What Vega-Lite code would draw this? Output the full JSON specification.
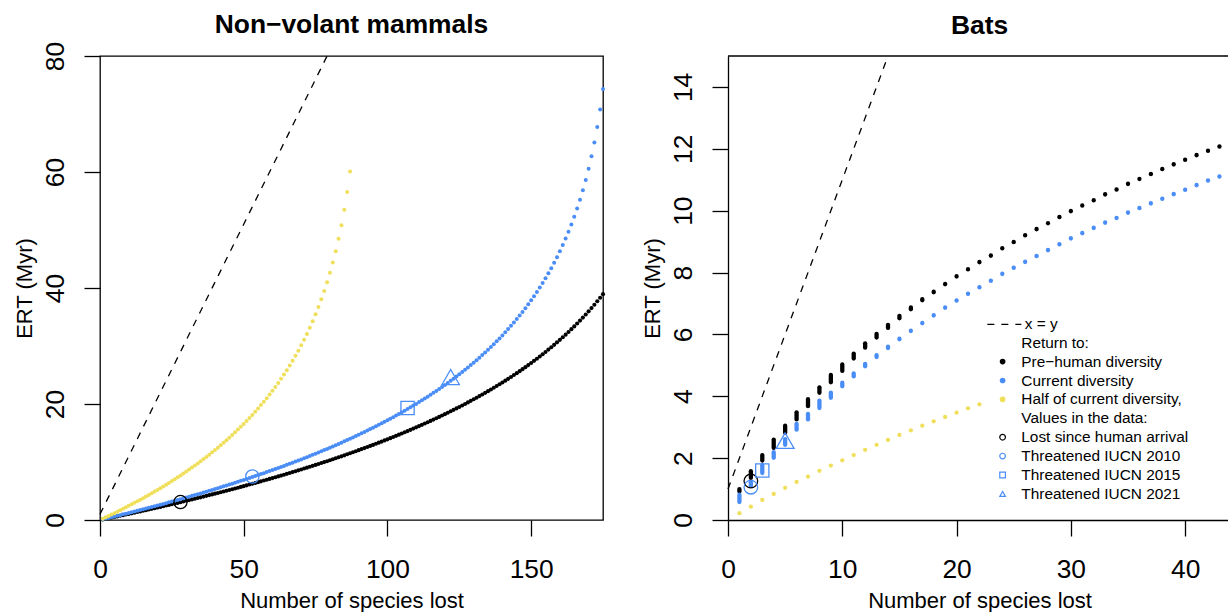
{
"$schema": "https://vega.github.io/schema/vega-lite/v6.json",
"padding": {"left": 12, "top": 11, "right": 0, "bottom": 0},
"autosize": {"type": "pad"},
"spacing": 125,
"bounds": "flush",
"resolve": {"scale": {"fill": "independent", "stroke": "independent", "shape": "independent", "strokeDash": "independent"}},
"config": {
  "font": "Liberation Sans",
  "view": {"stroke": "black", "strokeWidth": 1.3},
  "axis": {"grid": false, "domain": false, "ticks": true, "tickColor": "black", "tickWidth": 1.3, "tickSize": 16, "labelFontSize": 26.4, "labelColor": "black", "labelFont": "Liberation Sans", "titleFontSize": 22, "titleFontWeight": "normal", "titleColor": "black", "titleFont": "Liberation Sans", "labelBaseline": "alphabetic", "titleBaseline": "alphabetic", "domainColor": "black", "domainWidth": 1.3, "labelFlush": false, "labelOverlap": false, "labelBound": false},
  "axisX": {"labelPadding": 41.7, "labelAngle": 0, "labelAlign": "center", "titleY": 87, "titleX": 251.5, "titleAlign": "center"},
  "axisY": {"labelAngle": -90, "labelAlign": "center", "labelPadding": 20.7, "titleX": -69, "titleY": 232, "titleAngle": 270, "titleAlign": "center"},
  "title": {"fontSize": 26.4, "fontWeight": "bold", "color": "black", "font": "Liberation Sans", "frame": "group", "anchor": "middle"},
  "legend": {"labelFontSize": 15.4, "labelColor": "black", "labelFont": "Liberation Sans", "padding": 0, "labelLimit": 400},
  "circle": {"opacity": 1},
  "point": {"opacity": 1}
},
"datasets": {
"mam": [
{"x":1,"pre":0.1,"cur":0.12,"half":0.23},{"x":2,"pre":0.21,"cur":0.24,"half":0.47},{"x":3,"pre":0.31,"cur":0.36,"half":0.7},{"x":4,"pre":0.41,"cur":0.48,"half":0.94},{"x":5,"pre":0.52,"cur":0.6,"half":1.18},{"x":6,"pre":0.62,"cur":0.72,"half":1.43},{"x":7,"pre":0.73,"cur":0.84,"half":1.68},{"x":8,"pre":0.83,"cur":0.97,"half":1.93},{"x":9,"pre":0.94,"cur":1.09,"half":2.18},{"x":10,"pre":1.05,"cur":1.21,"half":2.44},
{"x":11,"pre":1.15,"cur":1.34,"half":2.7},{"x":12,"pre":1.26,"cur":1.47,"half":2.96},{"x":13,"pre":1.37,"cur":1.59,"half":3.23},{"x":14,"pre":1.48,"cur":1.72,"half":3.5},{"x":15,"pre":1.59,"cur":1.85,"half":3.77},{"x":16,"pre":1.7,"cur":1.98,"half":4.05},{"x":17,"pre":1.81,"cur":2.11,"half":4.33},{"x":18,"pre":1.92,"cur":2.24,"half":4.61},{"x":19,"pre":2.04,"cur":2.37,"half":4.9},{"x":20,"pre":2.15,"cur":2.5,"half":5.19},
{"x":21,"pre":2.26,"cur":2.63,"half":5.48},{"x":22,"pre":2.38,"cur":2.77,"half":5.78},{"x":23,"pre":2.49,"cur":2.9,"half":6.09},{"x":24,"pre":2.6,"cur":3.04,"half":6.4},{"x":25,"pre":2.72,"cur":3.18,"half":6.71},{"x":26,"pre":2.84,"cur":3.31,"half":7.03},{"x":27,"pre":2.95,"cur":3.45,"half":7.35},{"x":28,"pre":3.07,"cur":3.59,"half":7.68},{"x":29,"pre":3.19,"cur":3.73,"half":8.01},{"x":30,"pre":3.31,"cur":3.87,"half":8.35},
{"x":31,"pre":3.43,"cur":4.01,"half":8.69},{"x":32,"pre":3.55,"cur":4.16,"half":9.04},{"x":33,"pre":3.67,"cur":4.3,"half":9.4},{"x":34,"pre":3.79,"cur":4.45,"half":9.76},{"x":35,"pre":3.91,"cur":4.59,"half":10.13},{"x":36,"pre":4.04,"cur":4.74,"half":10.5},{"x":37,"pre":4.16,"cur":4.89,"half":10.88},{"x":38,"pre":4.29,"cur":5.04,"half":11.27},{"x":39,"pre":4.41,"cur":5.19,"half":11.66},{"x":40,"pre":4.54,"cur":5.34,"half":12.06},
{"x":41,"pre":4.66,"cur":5.49,"half":12.47},{"x":42,"pre":4.79,"cur":5.64,"half":12.89},{"x":43,"pre":4.92,"cur":5.8,"half":13.32},{"x":44,"pre":5.05,"cur":5.95,"half":13.75},{"x":45,"pre":5.18,"cur":6.11,"half":14.2},{"x":46,"pre":5.31,"cur":6.27,"half":14.65},{"x":47,"pre":5.44,"cur":6.42,"half":15.11},{"x":48,"pre":5.57,"cur":6.58,"half":15.59},{"x":49,"pre":5.71,"cur":6.75,"half":16.07},{"x":50,"pre":5.84,"cur":6.91,"half":16.56},
{"x":51,"pre":5.97,"cur":7.07,"half":17.07},{"x":52,"pre":6.11,"cur":7.24,"half":17.59},{"x":53,"pre":6.25,"cur":7.4,"half":18.12},{"x":54,"pre":6.38,"cur":7.57,"half":18.67},{"x":55,"pre":6.52,"cur":7.74,"half":19.23},{"x":56,"pre":6.66,"cur":7.91,"half":19.81},{"x":57,"pre":6.8,"cur":8.08,"half":20.4},{"x":58,"pre":6.94,"cur":8.26,"half":21.01},{"x":59,"pre":7.09,"cur":8.43,"half":21.63},{"x":60,"pre":7.23,"cur":8.61,"half":22.28},
{"x":61,"pre":7.37,"cur":8.78,"half":22.94},{"x":62,"pre":7.52,"cur":8.96,"half":23.63},{"x":63,"pre":7.66,"cur":9.14,"half":24.34},{"x":64,"pre":7.81,"cur":9.33,"half":25.08},{"x":65,"pre":7.96,"cur":9.51,"half":25.84},{"x":66,"pre":8.11,"cur":9.69,"half":26.63},{"x":67,"pre":8.26,"cur":9.88,"half":27.44},{"x":68,"pre":8.41,"cur":10.07,"half":28.3},{"x":69,"pre":8.56,"cur":10.26,"half":29.18},{"x":70,"pre":8.71,"cur":10.45,"half":30.11},
{"x":71,"pre":8.87,"cur":10.65,"half":31.08},{"x":72,"pre":9.02,"cur":10.84,"half":32.09},{"x":73,"pre":9.18,"cur":11.04,"half":33.16},{"x":74,"pre":9.34,"cur":11.24,"half":34.28},{"x":75,"pre":9.5,"cur":11.44,"half":35.46},{"x":76,"pre":9.66,"cur":11.64,"half":36.71},{"x":77,"pre":9.82,"cur":11.85,"half":38.05},{"x":78,"pre":9.98,"cur":12.05,"half":39.47},{"x":79,"pre":10.14,"cur":12.26,"half":40.99},{"x":80,"pre":10.31,"cur":12.47,"half":42.63},
{"x":81,"pre":10.48,"cur":12.69,"half":44.4},{"x":82,"pre":10.64,"cur":12.9,"half":46.34},{"x":83,"pre":10.81,"cur":13.12,"half":48.47},{"x":84,"pre":10.98,"cur":13.34,"half":50.83},{"x":85,"pre":11.15,"cur":13.56,"half":53.5},{"x":86,"pre":11.33,"cur":13.78,"half":56.54},{"x":87,"pre":11.5,"cur":14.01,"half":60.09},{"x":88,"pre":11.68,"cur":14.24},{"x":89,"pre":11.86,"cur":14.47},{"x":90,"pre":12.04,"cur":14.71},
{"x":91,"pre":12.22,"cur":14.94},{"x":92,"pre":12.4,"cur":15.18},{"x":93,"pre":12.58,"cur":15.42},{"x":94,"pre":12.77,"cur":15.67},{"x":95,"pre":12.95,"cur":15.92},{"x":96,"pre":13.14,"cur":16.17},{"x":97,"pre":13.33,"cur":16.42},{"x":98,"pre":13.52,"cur":16.68},{"x":99,"pre":13.72,"cur":16.94},{"x":100,"pre":13.91,"cur":17.2},
{"x":101,"pre":14.11,"cur":17.47},{"x":102,"pre":14.31,"cur":17.73},{"x":103,"pre":14.51,"cur":18.01},{"x":104,"pre":14.71,"cur":18.28},{"x":105,"pre":14.92,"cur":18.56},{"x":106,"pre":15.12,"cur":18.85},{"x":107,"pre":15.33,"cur":19.14},{"x":108,"pre":15.54,"cur":19.43},{"x":109,"pre":15.76,"cur":19.72},{"x":110,"pre":15.97,"cur":20.02},
{"x":111,"pre":16.19,"cur":20.33},{"x":112,"pre":16.41,"cur":20.64},{"x":113,"pre":16.63,"cur":20.95},{"x":114,"pre":16.86,"cur":21.27},{"x":115,"pre":17.08,"cur":21.59},{"x":116,"pre":17.31,"cur":21.92},{"x":117,"pre":17.54,"cur":22.25},{"x":118,"pre":17.78,"cur":22.59},{"x":119,"pre":18.01,"cur":22.93},{"x":120,"pre":18.25,"cur":23.28},
{"x":121,"pre":18.49,"cur":23.64},{"x":122,"pre":18.74,"cur":24.0},{"x":123,"pre":18.99,"cur":24.37},{"x":124,"pre":19.24,"cur":24.74},{"x":125,"pre":19.49,"cur":25.12},{"x":126,"pre":19.75,"cur":25.51},{"x":127,"pre":20.01,"cur":25.9},{"x":128,"pre":20.27,"cur":26.3},{"x":129,"pre":20.54,"cur":26.71},{"x":130,"pre":20.81,"cur":27.13},
{"x":131,"pre":21.08,"cur":27.56},{"x":132,"pre":21.36,"cur":27.99},{"x":133,"pre":21.64,"cur":28.44},{"x":134,"pre":21.92,"cur":28.89},{"x":135,"pre":22.21,"cur":29.35},{"x":136,"pre":22.5,"cur":29.82},{"x":137,"pre":22.8,"cur":30.31},{"x":138,"pre":23.1,"cur":30.8},{"x":139,"pre":23.4,"cur":31.31},{"x":140,"pre":23.71,"cur":31.83},
{"x":141,"pre":24.02,"cur":32.36},{"x":142,"pre":24.34,"cur":32.91},{"x":143,"pre":24.66,"cur":33.47},{"x":144,"pre":24.99,"cur":34.05},{"x":145,"pre":25.32,"cur":34.64},{"x":146,"pre":25.66,"cur":35.25},{"x":147,"pre":26.01,"cur":35.87},{"x":148,"pre":26.35,"cur":36.52},{"x":149,"pre":26.71,"cur":37.18},{"x":150,"pre":27.07,"cur":37.87},
{"x":151,"pre":27.44,"cur":38.58},{"x":152,"pre":27.81,"cur":39.32},{"x":153,"pre":28.19,"cur":40.08},{"x":154,"pre":28.58,"cur":40.86},{"x":155,"pre":28.97,"cur":41.68},{"x":156,"pre":29.38,"cur":42.54},{"x":157,"pre":29.78,"cur":43.42},{"x":158,"pre":30.2,"cur":44.35},{"x":159,"pre":30.63,"cur":45.32},{"x":160,"pre":31.06,"cur":46.33},
{"x":161,"pre":31.51,"cur":47.4},{"x":162,"pre":31.96,"cur":48.52},{"x":163,"pre":32.42,"cur":49.7},{"x":164,"pre":32.9,"cur":50.95},{"x":165,"pre":33.38,"cur":52.29},{"x":166,"pre":33.88,"cur":53.71},{"x":167,"pre":34.38,"cur":55.23},{"x":168,"pre":34.9,"cur":56.87},{"x":169,"pre":35.43,"cur":58.64},{"x":170,"pre":35.98,"cur":60.58},
{"x":171,"pre":36.54,"cur":62.71},{"x":172,"pre":37.12,"cur":65.07},{"x":173,"pre":37.71,"cur":67.74},{"x":174,"pre":38.32,"cur":70.78},{"x":175,"pre":38.94,"cur":74.33}
],
"bats": [
{"x":1,"plo":0.92,"phi":1.0,"clo":0.58,"chi":0.82,"h":0.22},{"x":2,"plo":1.36,"phi":1.58,"clo":1.1,"chi":1.22,"h":0.43},{"x":3,"plo":1.92,"phi":2.1,"clo":1.52,"chi":1.77,"h":0.65},{"x":4,"plo":2.33,"phi":2.6,"clo":2.01,"chi":2.19,"h":0.84},{"x":5,"plo":2.82,"phi":3.05,"clo":2.43,"chi":2.61,"h":1.04},
{"x":6,"plo":3.25,"phi":3.48,"clo":2.92,"chi":3.11,"h":1.23},{"x":7,"plo":3.68,"phi":3.91,"clo":3.25,"chi":3.43,"h":1.4},{"x":8,"plo":4.11,"phi":4.29,"clo":3.62,"chi":3.86,"h":1.59},{"x":9,"plo":4.45,"phi":4.69,"clo":3.95,"chi":4.12,"h":1.76},{"x":10,"plo":4.82,"phi":5.03,"clo":4.32,"chi":4.44,"h":1.93},
{"x":11,"plo":5.22,"phi":5.38,"clo":4.64,"chi":4.74,"h":2.1},{"x":12,"plo":5.57,"phi":5.71,"clo":4.97,"chi":5.05,"h":2.27},{"x":13,"plo":5.9,"phi":6.02,"clo":5.27,"chi":5.33,"h":2.43},{"x":14,"plo":6.21,"phi":6.31,"clo":5.56,"chi":5.6,"h":2.59},{"x":15,"plo":6.52,"phi":6.6,"clo":5.84,"chi":5.86,"h":2.75},
{"x":16,"plo":6.81,"phi":6.87,"clo":6.11,"chi":6.12,"h":2.9},{"x":17,"plo":7.1,"phi":7.14,"clo":6.36,"chi":6.37,"h":3.05},{"x":18,"plo":7.36,"phi":7.38,"clo":6.61,"chi":6.62,"h":3.19},{"x":19,"plo":7.62,"phi":7.63,"clo":6.86,"chi":6.87,"h":3.33},{"x":20,"plo":7.87,"phi":7.88,"clo":7.09,"chi":7.1,"h":3.47},
{"x":21,"plo":8.1,"phi":8.11,"clo":7.31,"chi":7.32,"h":3.61},{"x":22,"plo":8.33,"phi":8.34,"clo":7.52,"chi":7.53,"h":3.74},{"x":23,"plo":8.54,"phi":8.55,"clo":7.73,"chi":7.74},{"x":24,"plo":8.78,"phi":8.79,"clo":7.95,"chi":7.96},{"x":25,"plo":8.98,"phi":8.99,"clo":8.15,"chi":8.16},
{"x":26,"plo":9.2,"phi":9.21,"clo":8.34,"chi":8.35},{"x":27,"plo":9.4,"phi":9.41,"clo":8.53,"chi":8.54},{"x":28,"plo":9.59,"phi":9.6,"clo":8.72,"chi":8.73},{"x":29,"plo":9.79,"phi":9.8,"clo":8.91,"chi":8.92},{"x":30,"plo":9.98,"phi":9.99,"clo":9.1,"chi":9.11},
{"x":31,"plo":10.16,"phi":10.17,"clo":9.27,"chi":9.28},{"x":32,"plo":10.33,"phi":10.34,"clo":9.44,"chi":9.45},{"x":33,"plo":10.52,"phi":10.53,"clo":9.61,"chi":9.62},{"x":34,"plo":10.68,"phi":10.69,"clo":9.76,"chi":9.77},{"x":35,"plo":10.86,"phi":10.87,"clo":9.93,"chi":9.94},
{"x":36,"plo":11.02,"phi":11.03,"clo":10.08,"chi":10.09},{"x":37,"plo":11.18,"phi":11.19,"clo":10.23,"chi":10.24},{"x":38,"plo":11.34,"phi":11.35,"clo":10.38,"chi":10.39},{"x":39,"plo":11.49,"phi":11.5,"clo":10.53,"chi":10.54},{"x":40,"plo":11.64,"phi":11.65,"clo":10.67,"chi":10.68},
{"x":41,"plo":11.79,"phi":11.8,"clo":10.82,"chi":10.83},{"x":42,"plo":11.93,"phi":11.94,"clo":10.97,"chi":10.98},{"x":43,"plo":12.07,"phi":12.08,"clo":11.1,"chi":11.11}
]
},
"hconcat": [
{
  "width": 503, "height": 464,
  "title": {"text": "Non−volant mammals", "offset": 2.7},
  "layer": [
    {"data": {"values": [{"x":0,"y":1},{"x":79,"y":80}]},
     "mark": {"type": "line", "color": "black", "strokeWidth": 1.3, "strokeDash": [7,7]},
     "encoding": {
       "x": {"field": "x", "type": "quantitative", "scale": {"domain": [0,175], "nice": false, "zero": false}, "axis": {"values": [0,50,100,150], "title": "Number of species lost"}},
       "y": {"field": "y", "type": "quantitative", "scale": {"domain": [0,80], "nice": false, "zero": false}, "axis": {"values": [0,20,40,60,80], "title": "ERT (Myr)"}}}},
    {"data": {"name": "mam"},
     "mark": {"type": "circle", "color": "black", "size": 17, "opacity": 1},
     "encoding": {
       "x": {"field": "x", "type": "quantitative", "scale": {"domain": [0,175], "nice": false, "zero": false}, "axis": {"values": [0,50,100,150], "title": "Number of species lost"}},
       "y": {"field": "pre", "type": "quantitative", "scale": {"domain": [0,80], "nice": false, "zero": false}, "axis": {"values": [0,20,40,60,80], "title": "ERT (Myr)"}}}},
    {"data": {"name": "mam"},
     "mark": {"type": "circle", "color": "#4A8DF6", "size": 16, "opacity": 1},
     "encoding": {
       "x": {"field": "x", "type": "quantitative", "scale": {"domain": [0,175], "nice": false, "zero": false}, "axis": {"values": [0,50,100,150], "title": "Number of species lost"}},
       "y": {"field": "cur", "type": "quantitative", "scale": {"domain": [0,80], "nice": false, "zero": false}, "axis": {"values": [0,20,40,60,80], "title": "ERT (Myr)"}}}},
    {"data": {"name": "mam"},
     "mark": {"type": "circle", "color": "#EFDF5B", "size": 16, "opacity": 1},
     "encoding": {
       "x": {"field": "x", "type": "quantitative", "scale": {"domain": [0,175], "nice": false, "zero": false}, "axis": {"values": [0,50,100,150], "title": "Number of species lost"}},
       "y": {"field": "half", "type": "quantitative", "scale": {"domain": [0,80], "nice": false, "zero": false}, "axis": {"values": [0,20,40,60,80], "title": "ERT (Myr)"}}}},
    {"data": {"values": [{"x":28,"y":3.1}]},
     "mark": {"type": "point", "shape": "circle", "size": 175, "color": "black", "strokeWidth": 1.3, "filled": false, "opacity": 1},
     "encoding": {
       "x": {"field": "x", "type": "quantitative", "scale": {"domain": [0,175], "nice": false, "zero": false}, "axis": {"values": [0,50,100,150], "title": "Number of species lost"}},
       "y": {"field": "y", "type": "quantitative", "scale": {"domain": [0,80], "nice": false, "zero": false}, "axis": {"values": [0,20,40,60,80], "title": "ERT (Myr)"}}}},
    {"data": {"values": [{"x":53,"y":7.5}]},
     "mark": {"type": "point", "shape": "circle", "size": 175, "color": "#4A8DF6", "strokeWidth": 1.3, "filled": false, "opacity": 1},
     "encoding": {
       "x": {"field": "x", "type": "quantitative", "scale": {"domain": [0,175], "nice": false, "zero": false}, "axis": {"values": [0,50,100,150], "title": "Number of species lost"}},
       "y": {"field": "y", "type": "quantitative", "scale": {"domain": [0,80], "nice": false, "zero": false}, "axis": {"values": [0,20,40,60,80], "title": "ERT (Myr)"}}}},
    {"data": {"values": [{"x":107,"y":19.3}]},
     "mark": {"type": "point", "shape": "square", "size": 175, "color": "#4A8DF6", "strokeWidth": 1.3, "filled": false, "opacity": 1},
     "encoding": {
       "x": {"field": "x", "type": "quantitative", "scale": {"domain": [0,175], "nice": false, "zero": false}, "axis": {"values": [0,50,100,150], "title": "Number of species lost"}},
       "y": {"field": "y", "type": "quantitative", "scale": {"domain": [0,80], "nice": false, "zero": false}, "axis": {"values": [0,20,40,60,80], "title": "ERT (Myr)"}}}},
    {"data": {"values": [{"x":122,"y":24.2}]},
     "mark": {"type": "point", "shape": "triangle-up", "size": 300, "yOffset": -2.6, "color": "#4A8DF6", "strokeWidth": 1.3, "filled": false, "opacity": 1},
     "encoding": {
       "x": {"field": "x", "type": "quantitative", "scale": {"domain": [0,175], "nice": false, "zero": false}, "axis": {"values": [0,50,100,150], "title": "Number of species lost"}},
       "y": {"field": "y", "type": "quantitative", "scale": {"domain": [0,80], "nice": false, "zero": false}, "axis": {"values": [0,20,40,60,80], "title": "ERT (Myr)"}}}}
  ]
},
{
  "width": 500, "height": 464,
  "view": {"stroke": null},
  "title": {"text": "Bats", "dx": 1.5, "offset": 13.7},
  "layer": [
    {"data": {"values": [{"x":0,"y":1,"lab":"x = y"},{"x":14,"y":15,"lab":"x = y"}]},
     "mark": {"type": "line", "color": "black", "strokeWidth": 1.3},
     "encoding": {
       "x": {"field": "x", "type": "quantitative", "scale": {"domain": [0,43.75], "nice": false, "zero": false}, "axis": {"values": [0,10,20,30,40], "title": "Number of species lost", "domain": true}},
       "y": {"field": "y", "type": "quantitative", "scale": {"domain": [0,15], "nice": false, "zero": false}, "axis": {"values": [0,2,4,6,8,10,12,14], "title": "ERT (Myr)", "domain": true}},
       "strokeDash": {"field": "lab", "type": "nominal", "scale": {"domain": ["x = y"], "range": [[7,7]]},
         "legend": {"orient": "none", "legendX": 258.35, "legendY": 250.35, "title": null, "symbolType": "stroke", "symbolSize": 1156, "symbolStrokeWidth": 1.3, "symbolStrokeColor": "black", "labelOffset": 2.4}}}},
    {"data": {"name": "bats"},
     "mark": {"type": "rule", "color": "black", "strokeWidth": 4.3, "strokeCap": "round"},
     "encoding": {
       "x": {"field": "x", "type": "quantitative", "scale": {"domain": [0,43.75], "nice": false, "zero": false}, "axis": {"values": [0,10,20,30,40], "title": "Number of species lost", "domain": true}},
       "y": {"field": "plo", "type": "quantitative", "scale": {"domain": [0,15], "nice": false, "zero": false}, "axis": {"values": [0,2,4,6,8,10,12,14], "title": "ERT (Myr)", "domain": true}},
       "y2": {"field": "phi"}}},
    {"data": {"name": "bats"},
     "mark": {"type": "rule", "color": "#4A8DF6", "strokeWidth": 4.3, "strokeCap": "round"},
     "encoding": {
       "x": {"field": "x", "type": "quantitative", "scale": {"domain": [0,43.75], "nice": false, "zero": false}, "axis": {"values": [0,10,20,30,40], "title": "Number of species lost", "domain": true}},
       "y": {"field": "clo", "type": "quantitative", "scale": {"domain": [0,15], "nice": false, "zero": false}, "axis": {"values": [0,2,4,6,8,10,12,14], "title": "ERT (Myr)", "domain": true}},
       "y2": {"field": "chi"}}},
    {"data": {"name": "bats"},
     "mark": {"type": "circle", "color": "#EFDF5B", "size": 18.5, "opacity": 1},
     "encoding": {
       "x": {"field": "x", "type": "quantitative", "scale": {"domain": [0,43.75], "nice": false, "zero": false}, "axis": {"values": [0,10,20,30,40], "title": "Number of species lost", "domain": true}},
       "y": {"field": "h", "type": "quantitative", "scale": {"domain": [0,15], "nice": false, "zero": false}, "axis": {"values": [0,2,4,6,8,10,12,14], "title": "ERT (Myr)", "domain": true}}}},
    {"data": {"values": [{"k":"Lost since human arrival","x":2,"y":1.26},{"k":"Threatened IUCN 2010","x":2,"y":1.06}]},
     "mark": {"type": "point", "size": 185, "strokeWidth": 1.3, "opacity": 1, "filled": true},
     "encoding": {
       "x": {"field": "x", "type": "quantitative", "scale": {"domain": [0,43.75], "nice": false, "zero": false}, "axis": {"values": [0,10,20,30,40], "title": "Number of species lost", "domain": true}},
       "y": {"field": "y", "type": "quantitative", "scale": {"domain": [0,15], "nice": false, "zero": false}, "axis": {"values": [0,2,4,6,8,10,12,14], "title": "ERT (Myr)", "domain": true}},
       "fill": {"field": "k", "type": "nominal",
         "scale": {"domain": ["Return to:", "Pre−human diversity", "Current diversity", "Half of current diversity,", "Values in the data:", "Lost since human arrival", "Threatened IUCN 2010", "Threatened IUCN 2015", "Threatened IUCN 2021"],
                   "range": ["transparent", "black", "#4A8DF6", "#EFDF5B", "transparent", "transparent", "transparent", "transparent", "transparent"]},
         "legend": {"orient": "none", "legendX": 266.9, "legendY": 279, "title": null, "symbolSize": 32, "symbolStrokeWidth": 1.2, "labelOffset": 11, "rowPadding": 1.9}},
       "stroke": {"field": "k", "type": "nominal",
         "scale": {"domain": ["Return to:", "Pre−human diversity", "Current diversity", "Half of current diversity,", "Values in the data:", "Lost since human arrival", "Threatened IUCN 2010", "Threatened IUCN 2015", "Threatened IUCN 2021"],
                   "range": ["transparent", "transparent", "transparent", "transparent", "transparent", "black", "#4A8DF6", "#4A8DF6", "#4A8DF6"]},
         "legend": {"orient": "none", "legendX": 266.9, "legendY": 279, "title": null, "symbolSize": 32, "symbolStrokeWidth": 1.2, "labelOffset": 11, "rowPadding": 1.9}},
       "shape": {"field": "k", "type": "nominal",
         "scale": {"domain": ["Return to:", "Pre−human diversity", "Current diversity", "Half of current diversity,", "Values in the data:", "Lost since human arrival", "Threatened IUCN 2010", "Threatened IUCN 2015", "Threatened IUCN 2021"],
                   "range": ["circle", "circle", "circle", "circle", "circle", "circle", "circle", "square", "triangle-up"]},
         "legend": {"orient": "none", "legendX": 266.9, "legendY": 279, "title": null, "symbolSize": 32, "symbolStrokeWidth": 1.2, "labelOffset": 11, "rowPadding": 1.9}}}},
    {"data": {"values": [{"k":"Threatened IUCN 2015","x":3,"y":1.6}]},
     "mark": {"type": "point", "size": 175, "strokeWidth": 1.3, "opacity": 1, "filled": true},
     "encoding": {
       "x": {"field": "x", "type": "quantitative", "scale": {"domain": [0,43.75], "nice": false, "zero": false}, "axis": {"values": [0,10,20,30,40], "title": "Number of species lost", "domain": true}},
       "y": {"field": "y", "type": "quantitative", "scale": {"domain": [0,15], "nice": false, "zero": false}, "axis": {"values": [0,2,4,6,8,10,12,14], "title": "ERT (Myr)", "domain": true}},
       "fill": {"field": "k", "type": "nominal", "legend": null},
       "stroke": {"field": "k", "type": "nominal", "legend": null},
       "shape": {"field": "k", "type": "nominal", "legend": null}}},
    {"data": {"values": [{"k":"Threatened IUCN 2021","x":5,"y":2.48}]},
     "mark": {"type": "point", "size": 320, "yOffset": -2.6, "strokeWidth": 1.3, "opacity": 1, "filled": true},
     "encoding": {
       "x": {"field": "x", "type": "quantitative", "scale": {"domain": [0,43.75], "nice": false, "zero": false}, "axis": {"values": [0,10,20,30,40], "title": "Number of species lost", "domain": true}},
       "y": {"field": "y", "type": "quantitative", "scale": {"domain": [0,15], "nice": false, "zero": false}, "axis": {"values": [0,2,4,6,8,10,12,14], "title": "ERT (Myr)", "domain": true}},
       "fill": {"field": "k", "type": "nominal", "legend": null},
       "stroke": {"field": "k", "type": "nominal", "legend": null},
       "shape": {"field": "k", "type": "nominal", "legend": null}}},
    {"data": {"values": [{}]},
     "mark": {"type": "rule", "color": "black", "strokeWidth": 1.3},
     "encoding": {
       "y": {"datum": 15, "type": "quantitative", "scale": {"domain": [0,15], "nice": false, "zero": false}, "axis": {"values": [0,2,4,6,8,10,12,14], "title": "ERT (Myr)", "domain": true}}}}
  ]
}
]
}
